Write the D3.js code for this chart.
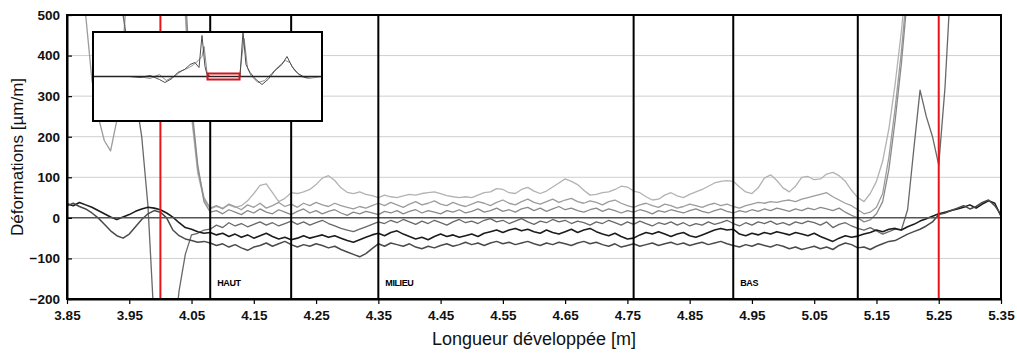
<!DOCTYPE html>
<html lang="fr">
<head>
    <meta charset="UTF-8">
    <title>Déformations</title>
    <script src="https://d3js.org/d3.v7.min.js"></script>
    <style>
        body {
            margin: 0;
            background: #fff;
        }

        svg {
            display: block;
            font-family: "Liberation Sans", Arial, sans-serif;
        }

        .tick text {
            font-size: 13.5px;
            font-weight: bold;
            fill: #111;
        }

        .grid line {
            stroke: #cfcfcf;
            stroke-width: 1px;
        }

        .trace {
            fill: none;
            stroke-linejoin: round;
        }
    </style>
</head>
<body>
    <div id="chart"></div>

    <script>
        // abscissa of every sample (m)
        const positions = d3.range(151).map(i => Math.round((3.85 + i * 0.01) * 100) / 100);

        // strain traces (µm/m), one value per position
        const s1 = [
            900, 900, 900, 900, 900, 900, 900, 900, 900, 900,
            900, 900, 900, 900, 900, 900, 900, 900, 750, 500,
            250, 110, 45, 22, 28, 24, 32, 26, 30, 42,
            60, 80, 84, 62, 40, 48, 62, 60, 64, 70,
            82, 98, 104, 92, 74, 63, 60, 64, 58, 55,
            50, 56, 52, 50, 54, 58, 56, 60, 62, 64,
            60, 55, 52, 50, 52, 50, 56, 62, 64, 72,
            70, 62, 60, 70, 75, 66, 60, 66, 76, 86,
            96, 90, 82, 68, 56, 58, 62, 64, 70, 78,
            76, 66, 62, 52, 44, 46, 56, 62, 54, 50,
            58, 64, 70, 78, 86, 90, 92, 90, 76, 64,
            60, 74, 98, 106, 92, 74, 64, 78, 100, 102,
            94, 96, 108, 112, 104, 90, 68, 50, 40, 60,
            90, 140, 220, 330, 460, 620, 900, 900, 900, 900,
            900, 900, 900, 900, 900, 900, 900, 900, 900, 900,
            900
        ];
        const s2 = [
            900, 900, 700, 500, 340, 250, 190, 165, 240, 420,
            650, 900, 900, 900, 900, 900, 900, 900, 900, 520,
            260, 120, 50, 24, 30, 22, 34, 28, 20, 32,
            26, 36, 24, 30, 38, 28, 34, 26, 36, 30,
            38, 32, 28, 36, 30, 26, 22, 28, 24, 30,
            36, 30, 38, 32, 26, 34, 40, 32, 36, 42,
            34, 30, 38, 32, 28, 34, 40, 36, 30, 38,
            44, 36, 32, 40, 46, 38, 34, 40, 46, 38,
            44, 48, 40, 36, 42, 38, 32, 40, 44, 36,
            30, 26, 32, 36, 30, 26, 34, 30, 24, 28,
            34, 30, 26, 32, 36, 30, 34, 28, 24, 30,
            34, 38, 36, 40, 38, 42, 44, 40, 46, 50,
            54, 58, 62, 52, 44, 36, 30, 20, 10, 14,
            26, 60, 150, 270, 410, 580, 900, 900, 900, 900,
            900, 900, 900, 900, 900, 900, 900, 900, 900, 900,
            900
        ];
        const s3 = [
            900, 900, 900, 900, 900, 900, 900, 900, 900, 900,
            900, 900, 900, 900, 900, 900, 900, 900, 900, 560,
            280, 130, 40, 14, 18, 10, 20, 14, 8, 18,
            12, 22, 14, 10, 20, 14, 8, 16, 22, 12,
            18, 10, 16, 20, 12, 6, 14, 10, 16, 12,
            8, 16, 12, 18, 10, 16, 20, 12, 18, 14,
            10, 18, 14, 20, 12, 16, 22, 14, 18, 24,
            16, 20, 14, 22, 26, 18, 24, 16, 22, 28,
            20, 24, 18, 14, 20, 24, 16, 22, 18, 12,
            18, 14, 20, 16, 10, 18, 14, 20, 16, 12,
            18, 22, 16, 12, 18, 22, 16, 12, 18, 14,
            20, 16, 22, 18, 24, 20, 16, 22, 18, 24,
            20, 26, 22, 18, 24, 14, 6, 0, -10, -5,
            10, 40, 120, 240, 380, 550, 900, 900, 900, 900,
            900, 900, 900, 900, 900, 900, 900, 900, 900, 900,
            900
        ];
        const s4 = [
            900, 900, 900, 900, 900, 900, 900, 900, 900, 500,
            400, 300, 200, 30, -260, -450, -480, -320, -180, -90,
            -42, -38, -30, -28, -18, -24, -12, -20, -14, -22,
            -16, -10, -18, -12, -20, -14, -8, -16, -10, -18,
            -12, -6, -14, -20, -26, -30, -34, -28, -22, -16,
            -10, -14, -6, -12, -4, -10, -16, -8, -14, -6,
            -12, -18, -10, -4, -12, -8, -14, -6, -2, -10,
            -6, -14, -8, -2, -10, -16, -8, -12, -4, -10,
            -6, -14, -8, -12, -18, -10, -14, -6, -12, -18,
            -10, -16, -8, -14, -20, -12, -16, -10, -18, -12,
            -20, -14, -18, -10, -16, -12, -6, -14, -20, -12,
            -18, -10, -14, -8, -16, -12, -18, -10, -14, -8,
            -12, -18, -10, -24, -16, -12, -20, -26, -30, -24,
            -32, -40, -34, -28, -30, 20, 170, 315, 250, 200,
            130, 320, 600, 900, 900, 900, 900, 900, 900, 900,
            900
        ];
        const s5 = [
            35, 30, 38, 32, 26, 18, 10, 2, -4, 2,
            8, 16, 22, 26, 24, 20, 12, 2, -12, -24,
            -28, -34, -38, -36, -42, -38, -46, -40, -48, -42,
            -50, -44, -38, -46, -52, -48, -54, -50, -44, -50,
            -46, -42, -48, -44, -50, -56, -60, -54, -48, -42,
            -38, -44, -36, -32, -40, -46, -52, -48, -54, -46,
            -40, -46, -42, -48, -44, -40, -46, -38, -34, -30,
            -36, -30, -26, -32, -28, -34, -38, -30, -36, -40,
            -34, -28, -36, -30, -26, -34, -40, -44, -38, -46,
            -52, -50, -42, -36, -40, -34, -40, -46, -40, -36,
            -44, -48, -42, -36, -30, -26, -30, -28, -40, -44,
            -38, -42, -36, -40, -34, -38, -42, -36, -40, -44,
            -38, -46, -52, -58, -50, -44, -48, -45, -40, -36,
            -30, -34, -28, -26, -30, -22, -16, -8, -2, 4,
            10, 14, 18, 22, 26, 32, 24, 34, 42, 36,
            4
        ];
        const s6 = [
            30, 36, 28, 22, 12, 0, -16, -32, -44, -50,
            -40, -22, -4, 10, 18, 14, 0, -30, -44, -52,
            -56, -60, -58, -62, -68, -64, -72, -66, -74, -80,
            -72, -68, -62, -70, -64, -58, -66, -72, -66, -70,
            -64, -68, -74, -70, -78, -84, -90, -96, -88, -76,
            -64, -70, -62, -66, -70, -64, -72, -76, -70, -74,
            -68, -64, -70, -66, -60, -66, -62, -68, -62, -58,
            -64, -60, -66, -62, -58, -64, -68, -62, -66, -60,
            -64, -68, -62, -58, -64, -60, -66, -70, -64, -72,
            -68, -64, -70, -66, -62, -68, -64, -60, -66, -62,
            -68, -64, -60, -66, -62, -58, -64, -68, -72, -66,
            -70, -64, -68, -72, -66, -70, -76, -72, -78, -74,
            -70, -76, -72, -78, -68, -62, -66, -74, -72, -78,
            -70, -64, -58, -56, -48, -40, -34, -28, -20, -10,
            8, 12, 18, 24, 30, 22, 28, 38, 44, 30,
            8
        ];
        const traces = [s1, s2, s3, s4, s5, s6];
        const traceColors = ["#b2b2b2", "#9c9c9c", "#8a8a8a", "#686868", "#1c1c1c", "#4a4a4a"];
        const traceWidths = [1.3, 1.3, 1.3, 1.3, 1.6, 1.5];

        // zone limits, gauge positions and zone names
        const zoneLimits = [4.08, 4.21, 4.35, 4.76, 4.92, 5.12];
        const gaugeLines = [4.00, 5.25];
        const zoneNames = ["HAUT", "MILIEU", "BAS"];
        const zoneNameAt = [4.08, 4.35, 4.92];

        // axis ticks
        const xMajor = d3.range(16).map(i => Math.round((3.85 + i * 0.1) * 100) / 100);
        const xMinor = d3.range(151).map(i => Math.round((3.85 + i * 0.01) * 100) / 100);
        const yMajor = [-200, -100, 0, 100, 200, 300, 400, 500];
        const yMinor = d3.range(-200, 501, 20);
        const yGrid = [-100, 100, 200, 300, 400];

        // overview inset: [relative position, relative strain]
        const insetA = [
            [0, 0], [16, 0], [20.5, -1], [25, 1], [29, -3], [31.4, -6], [34.5, -2], [37, 4],
            [40, 7], [42.4, 12], [44.5, 14], [46.3, 9], [47.6, 41], [48.9, 10], [49.8, 2],
            [51, 0], [64.2, 0], [65.5, 45], [66.8, 12], [68.6, 4], [70.7, -2], [73.8, -8],
            [76.4, -3], [79.5, 6], [82.5, 12], [84.7, 20], [86.9, 10], [89.5, 3], [92.6, -1],
            [95.6, 0], [100, 0]
        ];
        const insetB = [
            [0, 0], [20, 0], [25, -2], [29, 2], [32, -4], [36, 1], [39, 6], [42, 9], [44, 12],
            [46, 16], [47.6, 20], [48.5, 30], [49.8, 4], [51, 0], [64, 0], [65, 20], [66, 38],
            [67.5, 8], [69, 1], [72, -6], [75, -4], [78, 3], [81, 10], [84, 16], [86, 14],
            [88, 6], [91, 0], [94, -2], [100, 0]
        ];
        const insetZoom = [50, 64];

        const width = 1017, height = 355;
        const margin = { top: 15, right: 16, bottom: 56, left: 67 };

        const svg = d3.select("#chart").append("svg")
            .attr("width", width)
            .attr("height", height);

        const x = d3.scaleLinear().domain([3.85, 5.35]).range([margin.left, width - margin.right]);
        const y = d3.scaleLinear().domain([-200, 500]).range([height - margin.bottom, margin.top]);

        svg.append("clipPath").attr("id", "plot-clip")
            .append("rect")
            .attr("x", x(3.85)).attr("y", y(500))
            .attr("width", x(5.35) - x(3.85)).attr("height", y(-200) - y(500));

        // horizontal grid
        svg.append("g").attr("class", "grid")
            .selectAll("line")
            .data(yGrid)
            .enter().append("line")
            .attr("x1", x(3.85)).attr("x2", x(5.35))
            .attr("y1", d => y(d)).attr("y2", d => y(d));

        // traces
        const line = d3.line()
            .x((d, i) => x(positions[i]))
            .y(d => y(d));

        svg.append("g").attr("clip-path", "url(#plot-clip)")
            .selectAll("path")
            .data(traces)
            .enter().append("path")
            .attr("class", "trace")
            .attr("stroke", (d, i) => traceColors[i])
            .attr("stroke-width", (d, i) => traceWidths[i])
            .attr("d", line);

        // zero line
        svg.append("line")
            .attr("x1", x(3.85)).attr("x2", x(5.35))
            .attr("y1", y(0)).attr("y2", y(0))
            .attr("stroke", "#555")
            .attr("stroke-width", 1.5);

        // zone limits
        svg.append("g")
            .selectAll("line")
            .data(zoneLimits)
            .enter().append("line")
            .attr("x1", d => x(d)).attr("x2", d => x(d))
            .attr("y1", y(500)).attr("y2", y(-200))
            .attr("stroke", "#000")
            .attr("stroke-width", 2);

        svg.append("g")
            .selectAll("text")
            .data(zoneNames)
            .enter().append("text")
            .attr("x", (d, i) => x(zoneNameAt[i]) + 7)
            .attr("y", y(-200) - 13)
            .attr("font-size", 9)
            .attr("font-weight", "bold")
            .attr("letter-spacing", -0.4)
            .text(d => d);

        // gauge positions
        svg.append("g")
            .selectAll("line")
            .data(gaugeLines)
            .enter().append("line")
            .attr("x1", d => x(d)).attr("x2", d => x(d))
            .attr("y1", y(500)).attr("y2", y(-200))
            .attr("stroke", "#e8141a")
            .attr("stroke-width", 2);

        // inset overview
        const inset = { left: 93, top: 32, w: 229, h: 89 };
        const ix = d3.scaleLinear().domain([0, 100]).range([inset.left, inset.left + inset.w]);
        const iy = d3.scaleLinear().domain([-44.5, 44.5]).range([inset.top + inset.h, inset.top]);
        const insetG = svg.append("g");

        insetG.append("rect")
            .attr("x", inset.left).attr("y", inset.top)
            .attr("width", inset.w).attr("height", inset.h)
            .attr("fill", "#fff");

        const insetLine = d3.line().x(d => ix(d[0])).y(d => iy(d[1]));
        insetG.selectAll("path.ov")
            .data([insetB, insetA])
            .enter().append("path")
            .attr("class", "ov")
            .attr("fill", "none")
            .attr("stroke", (d, i) => i === 0 ? "#8c8c8c" : "#4e4e4e")
            .attr("stroke-width", 1)
            .attr("d", insetLine);

        insetG.append("line")
            .attr("x1", ix(0)).attr("x2", ix(100))
            .attr("y1", iy(0)).attr("y2", iy(0))
            .attr("stroke", "#222")
            .attr("stroke-width", 1.5);

        insetG.append("rect")
            .attr("x", ix(insetZoom[0])).attr("y", iy(3))
            .attr("width", ix(insetZoom[1]) - ix(insetZoom[0]))
            .attr("height", iy(-3) - iy(3))
            .attr("fill", "none")
            .attr("stroke", "#d0141a")
            .attr("stroke-width", 2);

        insetG.append("rect")
            .attr("x", inset.left).attr("y", inset.top)
            .attr("width", inset.w).attr("height", inset.h)
            .attr("fill", "none")
            .attr("stroke", "#000")
            .attr("stroke-width", 2);

        // axes
        const xAxisG = svg.append("g").attr("transform", `translate(0,${y(-200)})`);
        xAxisG.call(d3.axisBottom(x).tickValues(xMinor).tickSize(3).tickSizeOuter(0).tickFormat(""));
        xAxisG.call(d3.axisBottom(x).tickValues(xMajor).tickSize(5).tickSizeOuter(0).tickPadding(6)
            .tickFormat(d3.format(".2f")));

        const yAxisG = svg.append("g").attr("transform", `translate(${x(3.85)},0)`);
        yAxisG.call(d3.axisLeft(y).tickValues(yMinor).tickSize(-3).tickSizeOuter(0).tickFormat(""));
        yAxisG.call(d3.axisLeft(y).tickValues(yMajor).tickSize(-5).tickSizeOuter(0).tickPadding(7)
            .tickFormat(d3.format("d")));

        svg.selectAll(".domain").attr("stroke", "#000").attr("stroke-width", 2);
        svg.selectAll(".tick line").attr("stroke", "#000").attr("stroke-width", 1.2);

        // frame
        svg.append("rect")
            .attr("x", x(3.85)).attr("y", y(500))
            .attr("width", x(5.35) - x(3.85)).attr("height", y(-200) - y(500))
            .attr("fill", "none")
            .attr("stroke", "#000")
            .attr("stroke-width", 2);

        // titles
        svg.append("text")
            .attr("x", (x(3.85) + x(5.35)) / 2)
            .attr("y", 345)
            .attr("text-anchor", "middle")
            .attr("font-size", 18)
            .attr("fill", "#111")
            .text("Longueur développée [m]");

        svg.append("text")
            .attr("transform", `translate(23,${(y(500) + y(-200)) / 2}) rotate(-90)`)
            .attr("text-anchor", "middle")
            .attr("font-size", 17)
            .attr("fill", "#111")
            .text("Déformations [µm/m]");
    </script>
</body>
</html>
